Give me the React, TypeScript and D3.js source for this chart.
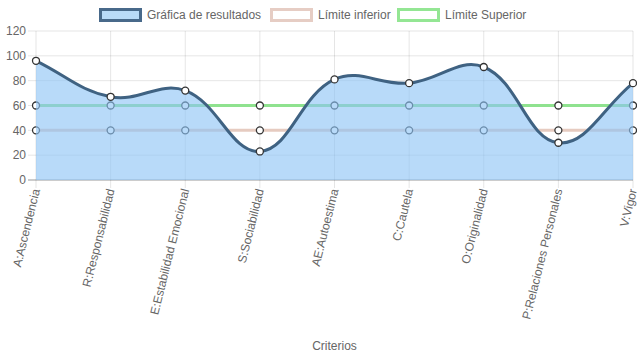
import * as d3 from 'd3';

const categories = [
  'A:Ascendencia',
  'R:Responsabilidad',
  'E:Estabilidad Emocional',
  'S:Sociabilidad',
  'AE:Autoestima',
  'C:Cautela',
  'O:Originalidad',
  'P:Relaciones Personales',
  'V:Vigor',
];
const resultados = [96, 67, 72, 23, 81, 78, 91, 30, 78];
const limiteInferior = [40, 40, 40, 40, 40, 40, 40, 40, 40];
const limiteSuperior = [60, 60, 60, 60, 60, 60, 60, 60, 60];
const yTicks = [0, 20, 40, 60, 80, 100, 120];

const W = 637;
const H = 359;
const left = 36;
const right = 633;
const top = 31;
const bottom = 180;
const font = '"Liberation Sans", Arial, Helvetica, sans-serif';

type Pt = { x: number; y: number };

// Chart.js style spline (tension 0.4)
function splinePath(pts: Pt[], t = 0.4): string {
  const p = d3.path();
  if (!pts.length) return '';
  const ctrl = pts.map((cur, i) => {
    const prev = pts[i - 1] ?? cur;
    const next = pts[i + 1] ?? cur;
    const d01 = Math.hypot(cur.x - prev.x, cur.y - prev.y);
    const d12 = Math.hypot(next.x - cur.x, next.y - cur.y);
    const tot = d01 + d12 || 1;
    const fa = (t * d01) / tot;
    const fb = (t * d12) / tot;
    const clampY = (v: number) => Math.max(top, Math.min(bottom, v));
    return {
      px: cur.x - fa * (next.x - prev.x),
      py: clampY(cur.y - fa * (next.y - prev.y)),
      nx: cur.x + fb * (next.x - prev.x),
      ny: clampY(cur.y + fb * (next.y - prev.y)),
    };
  });
  p.moveTo(pts[0].x, pts[0].y);
  for (let i = 1; i < pts.length; i++) {
    p.bezierCurveTo(ctrl[i - 1].nx, ctrl[i - 1].ny, ctrl[i].px, ctrl[i].py, pts[i].x, pts[i].y);
  }
  return p.toString();
}

export default function App() {
  const x = d3.scalePoint<string>().domain(categories).range([left, right]);
  const y = d3.scaleLinear().domain([0, 120]).range([bottom, top]);

  const toPts = (vals: number[]) => vals.map((v, i) => ({ x: x(categories[i])!, y: y(v) }));
  const resPts = toPts(resultados);
  const infPts = toPts(limiteInferior);
  const supPts = toPts(limiteSuperior);

  const resLine = splinePath(resPts);
  const resArea = `${resLine}L${resPts[resPts.length - 1].x},${y(0)}L${resPts[0].x},${y(0)}Z`;

  const legend = [
    { label: 'Gráfica de resultados', x: 99, fill: '#b9dbf8', stroke: '#48698a' },
    { label: 'Límite inferior', x: 270, fill: '#ffffff', stroke: '#e6cdc4' },
    { label: 'Límite Superior', x: 397, fill: '#ffffff', stroke: '#94e694' },
  ];

  const points = (pts: Pt[], key: string) =>
    pts.map((p, i) => (
      <circle key={key + i} cx={p.x} cy={p.y} r={3.5} fill="#fff" stroke="#333" strokeWidth={1.3} />
    ));

  return (
    <svg width={W} height={H} style={{ position: 'absolute', left: 0, top: 0 }} fontFamily={font}>
      {/* legend */}
      {legend.map((l) => (
        <g key={l.label}>
          <rect x={l.x + 1.5} y={9.5} width={40} height={11} fill={l.fill} stroke={l.stroke} strokeWidth={3} />
          <text x={l.x + 48} y={15} dy="0.35em" fontSize={12} fill="#666">
            {l.label}
          </text>
        </g>
      ))}

      {/* grid */}
      {yTicks.map((t) => (
        <g key={'y' + t}>
          <line
            x1={left - 8}
            x2={right}
            y1={y(t)}
            y2={y(t)}
            stroke={t === 0 ? 'rgba(0,0,0,0.2)' : 'rgba(0,0,0,0.1)'}
            strokeWidth={t === 0 ? 2 : 1}
          />
          <text x={left - 10} y={y(t)} dy="0.35em" textAnchor="end" fontSize={12} fill="#666">
            {t}
          </text>
        </g>
      ))}
      {categories.map((c) => (
        <line key={'x' + c} x1={x(c)} x2={x(c)} y1={top} y2={bottom + 8} stroke="rgba(0,0,0,0.1)" />
      ))}

      {/* limit lines */}
      <path d={splinePath(supPts)} fill="none" stroke="#8fe28f" strokeWidth={3} />
      <path d={splinePath(infPts)} fill="none" stroke="#e6cbc0" strokeWidth={3} />
      {points(supPts, 's')}
      {points(infPts, 'i')}

      {/* results */}
      <path d={resArea} fill="rgba(140,195,245,0.62)" />
      <path d={resLine} fill="none" stroke="#3f6282" strokeWidth={3} />
      {points(resPts, 'r')}

      {/* x labels */}
      {categories.map((c) => (
        <text
          key={'l' + c}
          transform={`translate(${x(c)!},${bottom + 9}) rotate(-76)`}
          textAnchor="end"
          dy="0.35em"
          fontSize={12}
          fill="#666"
        >
          {c}
        </text>
      ))}

      <text x={(left + right) / 2} y={346} dy="0.35em" textAnchor="middle" fontSize={12} fill="#666">
        Criterios
      </text>
    </svg>
  );
}
